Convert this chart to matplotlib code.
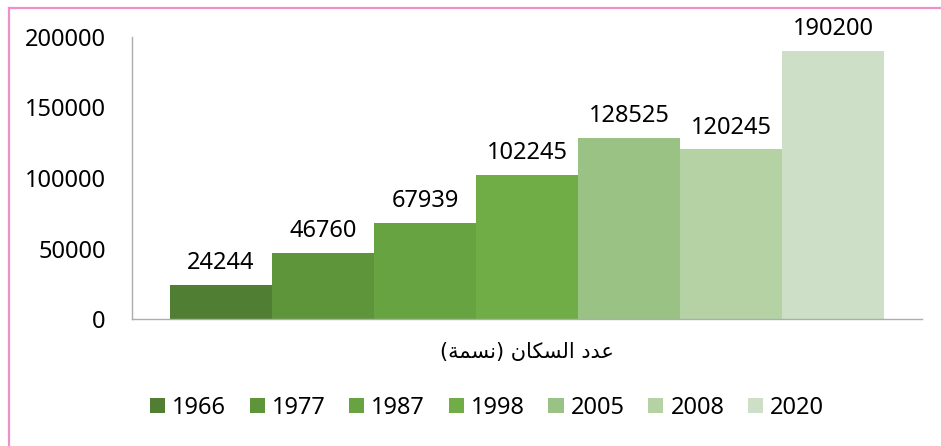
import matplotlib
matplotlib.use("Agg")
import matplotlib.pyplot as plt
from matplotlib.patches import Rectangle
from matplotlib.lines import Line2D

years = ["1966", "1977", "1987", "1998", "2005", "2008", "2020"]
population = [24244, 46760, 67939, 102245, 128525, 120245, 190200]
colors = ["#507E32", "#5E953B", "#68A342", "#70AD47", "#9BC285", "#B5D2A5", "#CDDFC6"]
category = "\u0639\u062f\u062f \u0627\u0644\u0633\u0643\u0627\u0646 (\u0646\u0633\u0645\u0629)"
# visual-order presentation forms of the category label (matplotlib has no Arabic shaping)
category_visual = ("(\uFE94\uFEE4\uFEB4\uFEE7) "
                   "\uFEE5\uFE8E\uFEDC\uFEB4\uFEDF\uFE8D "
                   "\uFEA9\uFEAA\uFECB")
yticks = [0, 50000, 100000, 150000, 200000]

FONT = ["Noto Sans", "DejaVu Sans"]
FS = 17

fig = plt.figure(figsize=(9.41, 4.46), dpi=100)
ax = fig.add_axes([132/941, (446-319)/446, (922-132)/941, (319-37)/446])

n = len(years)
group_w = 714/790
bw = group_w / n
x0 = -group_w/2 + bw/2
for i, (y, v, c) in enumerate(zip(years, population, colors)):
    xc = x0 + i*bw
    ax.bar(xc, v, width=bw, color=c, edgecolor="none", label=y)
    ax.annotate(str(v), (xc, v), xytext=(0, 7), textcoords="offset points",
                ha="center", va="bottom", fontsize=FS, family=FONT, color="#000000")

ax.set_xlim(-0.5, 0.5)
ax.set_ylim(0, 200000)
ax.set_yticks(yticks)
ax.set_yticklabels([str(t) for t in yticks], family=FONT, fontsize=FS)
ax.set_xticks([])
for s in ["top", "right"]:
    ax.spines[s].set_visible(False)
for s in ["left", "bottom"]:
    ax.spines[s].set_color("#ADADAD")
    ax.spines[s].set_linewidth(1.0)
ax.tick_params(axis="y", length=0, pad=19)

fig.text(527/941, 1 - 352/446, category_visual, ha="center", va="center",
         fontsize=15, family=["DejaVu Sans"])

handles = [Rectangle((0, 0), 1, 1, facecolor=c, edgecolor="none") for c in colors]
leg = fig.legend(handles, years, loc="center", bbox_to_anchor=(487/941, 1 - 408/446),
                 ncol=n, frameon=False, prop={"family": FONT, "size": FS},
                 handlelength=0.64, handleheight=0.6, handletextpad=0.3,
                 columnspacing=1.0)

# pink outer border (only top and left visible in the crop)
fig.add_artist(Line2D([8.5/941, 8.5/941], [0, 1 - 7.5/446], transform=fig.transFigure,
                      color="#EE8FC8", lw=1.6))
fig.add_artist(Line2D([8.5/941, 1], [1 - 7.5/446, 1 - 7.5/446], transform=fig.transFigure,
                      color="#EE8FC8", lw=1.6))

fig.savefig("out.png", dpi=100)
